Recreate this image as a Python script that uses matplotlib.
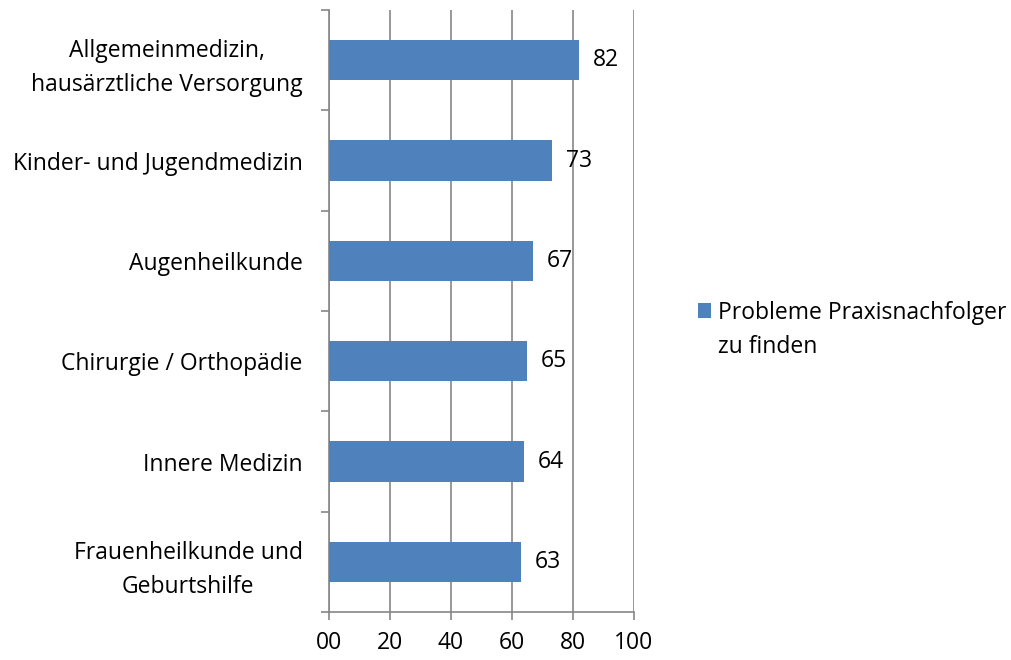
import matplotlib.pyplot as plt
from matplotlib.patches import Patch
import numpy as np

categories = [
    "Allgemeinmedizin,\nhausärztliche Versorgung",
    "Kinder- und Jugendmedizin",
    "Augenheilkunde",
    "Chirurgie / Orthopädie",
    "Innere Medizin",
    "Frauenheilkunde und\nGeburtshilfe",
]
values = [82, 73, 67, 65, 64, 63]
x_ticks = [0, 20, 40, 60, 80, 100]
x_tick_labels = ["00", "20", "40", "60", "80", "100"]
series_lines = ["Probleme Praxisnachfolger", "zu finden"]

plt.rcParams["font.family"] = ["Open Sans", "DejaVu Sans"]
grey = "#868686"
blue = "#4F81BD"
fs = 16.5

fig = plt.figure(figsize=(10.11, 6.6), dpi=100)
ax = fig.add_axes([0.3254, 0.0727, 0.3017, 0.9121])

y = np.arange(len(categories))
bars = ax.barh(y, values, height=0.4, color=blue, zorder=3)
ax.set_ylim(len(categories) - 0.5, -0.5)
ax.set_xlim(0, 100)

# value labels
for yi, v in zip(y, values):
    ax.annotate(str(v), (v, yi), xytext=(10, 0), textcoords="offset points",
                va="center", ha="left", fontsize=fs)

# grid and axes
ax.set_xticks(x_ticks)
ax.set_xticklabels(x_tick_labels, fontsize=fs)
ax.xaxis.grid(True, color=grey, linewidth=1.2, zorder=0)
ax.tick_params(axis="x", length=6, width=1.2, color=grey, pad=8)

ax.set_yticks(np.arange(len(categories) + 1) - 0.5)
ax.set_yticklabels([])
ax.set_yticks(y, minor=True)
ax.set_yticklabels(categories, minor=True, fontsize=fs)
for lbl in ax.get_yticklabels(minor=True):
    lbl.set_multialignment("center")
    lbl.set_linespacing(1.55)
ax.tick_params(axis="y", which="major", length=6, width=1.2, color=grey)
ax.tick_params(axis="y", which="minor", length=0, pad=19)

for side in ["top", "right"]:
    ax.spines[side].set_visible(False)
for side in ["left", "bottom"]:
    ax.spines[side].set_color(grey)
    ax.spines[side].set_linewidth(1.2)

# legend: marker sits next to the first line of the wrapped name
blank = Patch(facecolor="none", edgecolor="none")
fig.legend(handles=[bars, blank], labels=series_lines, loc="center left",
           bbox_to_anchor=(0.69, 0.5), frameon=False, fontsize=fs,
           handlelength=0.6, handleheight=0.6, handletextpad=0.3,
           labelspacing=0.45, borderpad=0, borderaxespad=0)

plt.savefig("out.png", dpi=100)
